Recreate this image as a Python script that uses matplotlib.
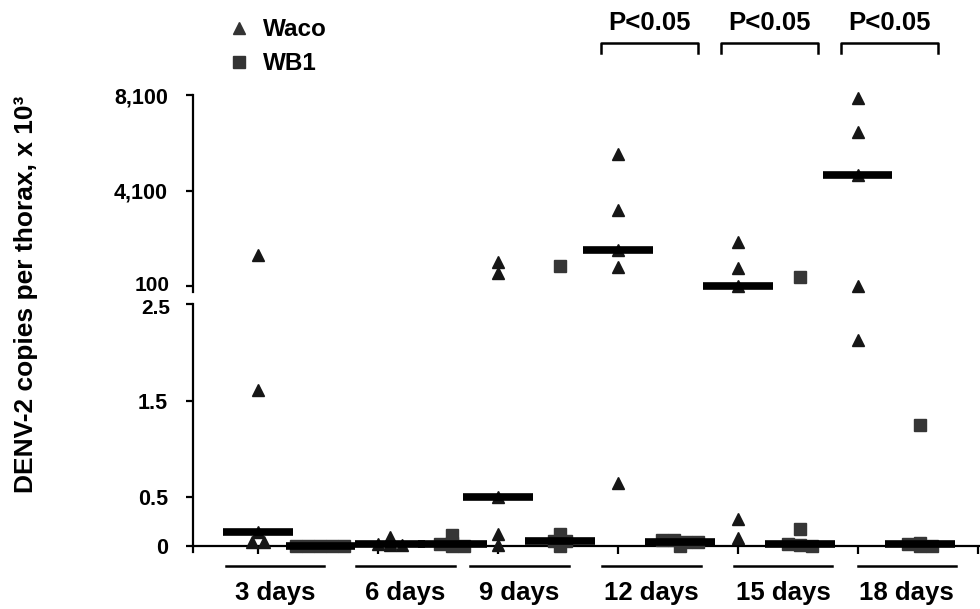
import numpy as np
import matplotlib.pyplot as plt
import matplotlib.transforms as mtrans
from matplotlib.lines import Line2D

plt.rcParams['font.family'] = ['Liberation Sans', 'DejaVu Sans']
plt.rcParams['font.weight'] = 'bold'

# data (copies per thorax, x 10^3), 5 mosquitoes per group
days = ['3 days', '6 days', '9 days', '12 days', '15 days', '18 days']
waco = [
    [1400, 1.61, 0.14, 0.04, 0.04],
    [0.09, 0.03, 0.02, 0.01, 0.01],
    [1100, 630, 0.5, 0.12, 0.01],
    [5650, 3300, 1600, 880, 0.65],
    [1950, 840, 100, 0.28, 0.08],
    [7990, 6560, 4750, 100, 2.13],
]
wb1 = [
    [0, 0, 0, 0, 0],
    [0.11, 0.03, 0.02, 0.0, 0.0],
    [940, 0.12, 0.05, 0.05, 0.0],
    [0.06, 0.06, 0.04, 0.04, 0.0],
    [480, 0.17, 0.02, 0.01, 0.0],
    [1.25, 0.03, 0.02, 0.0, 0.0],
]
p_text = ['', '', '', 'P<0.05', 'P<0.05', 'P<0.05']
upper_ticks = [100, 4100, 8100]
upper_labels = ['100', '4,100', '8,100']
lower_ticks = [0, 0.5, 1.5, 2.5]
lower_labels = ['0', '0.5', '1.5', '2.5']
BREAK = 2.5

# layout
waco_x = np.array([0, 1.1, 2, 3, 4, 5])
wb1_x = waco_x + 0.52
label_x = [0.14, 1.23, 2.18, 3.28, 4.38, 5.41]
tri_col = '#161616'
sq_col = '#363636'

fig = plt.figure(figsize=(9.8, 6.09), dpi=100)
ax_hi = fig.add_axes([0.197, 0.5205, 0.803, 0.3235])
ax_lo = fig.add_axes([0.197, 0.0928, 0.803, 0.408])

xlim = (-0.542, 6.02)
for ax in (ax_hi, ax_lo):
    ax.set_xlim(*xlim)
    ax.spines['top'].set_visible(False)
    ax.spines['right'].set_visible(False)
    ax.spines['left'].set_linewidth(1.6)
    ax.tick_params(axis='y', length=5, width=1.6, pad=13, labelsize=15.5)

ax_hi.set_ylim(-150, 8100)
ax_hi.spines['bottom'].set_visible(False)
ax_hi.set_xticks([])
ax_hi.set_yticks(upper_ticks)
# the label at the break is drawn by hand below
ax_hi.set_yticklabels([''] + upper_labels[1:])

ax_lo.set_ylim(-0.07, BREAK)
ax_lo.spines['bottom'].set_position(('data', 0))
ax_lo.spines['bottom'].set_linewidth(1.6)
ax_lo.set_yticks(lower_ticks)
ax_lo.set_yticklabels(lower_labels[:-1] + [''])
ax_lo.set_xticks(np.arange(0, 7))
ax_lo.set_xticklabels([])
ax_lo.tick_params(axis='x', length=6, width=1.6, direction='out')

# "100" and "2.5" sit close together at the axis break
t_hi = mtrans.offset_copy(ax_hi.get_yaxis_transform(), fig, x=-16.6, y=1.5, units='points')
ax_hi.text(0, upper_ticks[0], upper_labels[0], transform=t_hi, ha='right',
           va='center_baseline', fontsize=15)
t_lo = mtrans.offset_copy(ax_lo.get_yaxis_transform(), fig, x=-16.6, y=-2.0, units='points')
ax_lo.text(0, lower_ticks[-1], lower_labels[-1], transform=t_lo, ha='right',
           va='center_baseline', fontsize=15)


def spread(vals, step=0.1):
    # points with about the same value are put side by side
    vals = np.asarray(vals, float)
    offs = np.zeros(len(vals))
    keys = np.round(vals / 0.05).astype(int)
    for k in np.unique(keys):
        idx = np.where(keys == k)[0]
        n = len(idx)
        offs[idx] = (np.arange(n) - (n - 1) / 2) * step
    return offs


def draw_group(vals, x0, marker, color, ms):
    vals = np.asarray(vals, float)
    offs = spread(vals)
    for v, o in zip(vals, offs):
        ax = ax_hi if v > BREAK else ax_lo
        ax.plot(x0 + o, v, marker=marker, color=color, ms=ms, mec=color,
                ls='none', zorder=3, clip_on=False)
    med = np.median(vals)
    ax = ax_hi if med > BREAK else ax_lo
    ax.plot([x0 - 0.29, x0 + 0.29], [med, med], color='black', lw=5.5,
            solid_capstyle='butt', zorder=4, clip_on=False)


for i in range(len(days)):
    draw_group(waco[i], waco_x[i], '^', tri_col, 9)
    draw_group(wb1[i], wb1_x[i], 's', sq_col, 8)

# day labels with underline
tr = ax_lo.get_xaxis_transform()
for lx, d in zip(label_x, days):
    ax_lo.plot([lx - 0.41, lx + 0.41], [-0.055, -0.055], color='black', lw=1.8,
               transform=tr, clip_on=False)
    ax_lo.text(lx, -0.165, d, transform=tr, ha='center', va='center',
               fontsize=18.5, fontweight='bold')

# significance brackets
trh = ax_hi.get_xaxis_transform()
for i, p in enumerate(p_text):
    if not p:
        continue
    x1 = waco_x[i] - 0.14
    x2 = wb1_x[i] + 0.15
    ax_hi.plot([x1, x1, x2, x2], [1.213, 1.264, 1.264, 1.213], color='black',
               lw=1.8, transform=trh, clip_on=False)
    ax_hi.text((x1 + x2) / 2, 1.365, p, transform=trh, ha='center',
               va='center', fontsize=18.5, fontweight='bold')

fig.text(0.027, 0.516, 'DENV-2 copies per thorax, x 10³', rotation=90,
         ha='center', va='center', fontsize=19, fontweight='bold')

handles = [Line2D([], [], marker='^', color='#333333', ls='none', ms=9),
           Line2D([], [], marker='s', color='#333333', ls='none', ms=8)]
fig.legend(handles, ['Waco', 'WB1'], loc='upper left',
           bbox_to_anchor=(0.209, 1.006), frameon=False, fontsize=17.5,
           handletextpad=0.5, labelspacing=0.45, handlelength=1.0)

fig.savefig('out.png', dpi=100)
